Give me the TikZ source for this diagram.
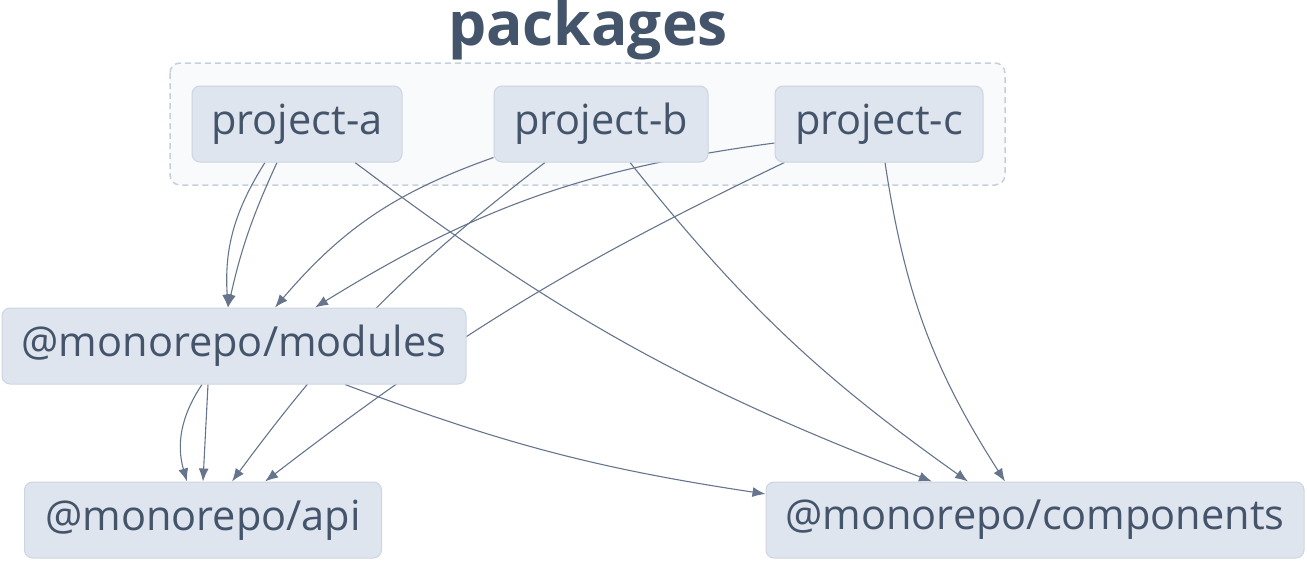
\documentclass[tikz,border=0pt]{standalone}
\usepackage{fontspec}
\setmainfont{Open Sans}
\usetikzlibrary{arrows.meta,calc}

\definecolor{nodefill}{HTML}{DFE5EF}
\definecolor{nodeline}{HTML}{CDD5E2}
\definecolor{textcol}{HTML}{44546A}
\definecolor{edgecol}{HTML}{66758C}
\definecolor{clusterfill}{HTML}{F8FAFC}
\definecolor{clusterline}{HTML}{C5D0DC}

\pgfdeclarelayer{bg}
\pgfdeclarelayer{edges}
\pgfsetlayers{bg,edges,main}

\begin{document}
\begin{tikzpicture}[x=1pt, y=-1pt,
    pkg/.style={rectangle, rounded corners=8pt, fill=nodefill, draw=nodeline, line width=1pt,
        text=textcol, minimum height=76pt, inner xsep=4pt, inner ysep=0pt,
        font=\fontsize{41.5}{46}\selectfont},
    dep/.style={draw=edgecol, line width=1.1pt, -{Latex[length=13pt,width=10pt]}}]

\useasboundingbox (0,0) rectangle (1307,562);

% Title of the group
\node[text=textcol, font=\fontsize{60.5}{66}\selectfont\bfseries] (title) at (588,30) {packages};

% Projects inside the group
\node[pkg, minimum width=210pt] (pa) at (297,124) {project-a};
\node[pkg, minimum width=214pt] (pb) at (601,124) {project-b};
\node[pkg, minimum width=208pt] (pc) at (879,124) {project-c};

% Shared libraries
\node[pkg, minimum width=464pt] (mod) at (234,346) {@monorepo/modules};
\node[pkg, minimum width=357pt] (api) at (203,520) {@monorepo/api};
\node[pkg, minimum width=538pt] (comp) at (1035,520) {@monorepo/components};

% Dashed group box
\begin{pgfonlayer}{bg}
\draw[fill=clusterfill, draw=clusterline, line width=1.5pt, dash pattern=on 6pt off 4pt, rounded corners=10pt]
    (170,63) rectangle (1005,185);
\end{pgfonlayer}

% Dependencies
\begin{pgfonlayer}{edges}
\draw[dep] ($(pa.south)+(-32,0)$) to[bend right=18] ($(mod.north)+(-6,0)$);
\draw[dep] ($(pa.south)+(-20,0)$) to[bend right=6] ($(mod.north)+(-6,0)$);
\draw[dep] ($(pa.south)+(58,0)$) to[bend right=8] ($(comp.north)+(-103,0)$);

\draw[dep] ($(pb.south west)+(0,-5)$) to[bend right=15] ($(mod.north)+(41,0)$);
\draw[dep] ($(pb.south)+(-56,0)$) to[bend right=8] ($(api.north)+(29,0)$);
\draw[dep] ($(pb.south)+(29,0)$) to[bend right=8] ($(comp.north)+(-67,0)$);

\draw[dep] ($(pc.west)+(0,19)$) to[bend right=12] ($(mod.north)+(81,0)$);
\draw[dep] ($(pc.south west)+(10,0)$) to[bend right=6] ($(api.north)+(62,0)$);
\draw[dep] ($(pc.south)+(6,0)$) to[bend right=12] ($(comp.north)+(-30,0)$);

\draw[dep] ($(mod.south)+(-32,0)$) to[bend right=25] ($(api.north)+(-16,0)$);
\draw[dep] ($(mod.south)+(-26,0)$) -- ($(api.north)+(0,0)$);
\draw[dep] ($(mod.south)+(111,0)$) to[bend right=6] ($(comp.west)+(0,-26)$);
\end{pgfonlayer}

\end{tikzpicture}
\end{document}
